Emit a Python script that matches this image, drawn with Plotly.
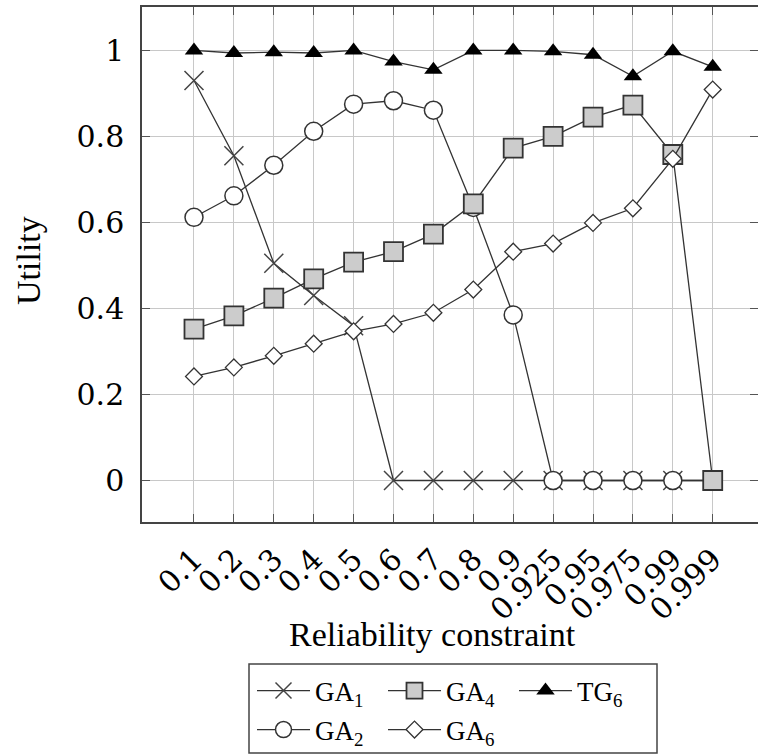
import plotly.graph_objects as go

reliability = ["0.1", "0.2", "0.3", "0.4", "0.5", "0.6", "0.7", "0.8", "0.9",
               "0.925", "0.95", "0.975", "0.99", "0.999"]
ga1 = [0.93, 0.755, 0.505, 0.43, 0.36, 0, 0, 0, 0, 0, 0, 0, 0, 0]
ga2 = [0.612, 0.662, 0.733, 0.812, 0.875, 0.883, 0.861, 0.635, 0.385, 0, 0, 0, 0, 0]
ga4 = [0.352, 0.383, 0.424, 0.469, 0.508, 0.532, 0.573, 0.643, 0.773, 0.80, 0.845, 0.873, 0.758, 0]
ga6 = [0.242, 0.263, 0.29, 0.318, 0.347, 0.364, 0.39, 0.444, 0.532, 0.551, 0.599, 0.633, 0.748, 0.909]
tg6 = [1.0, 0.994, 0.996, 0.994, 1.0, 0.974, 0.955, 1.0, 1.0, 0.998, 0.99, 0.94, 0.998, 0.962]
y_ticks = [0, 0.2, 0.4, 0.6, 0.8, 1]
y_ticktext = ["0", "0.2", "0.4", "0.6", "0.8", "1"]

W, H = 758, 755
L, T, B = 142, 7, 522          # plot area pixel edges
PW, PH = W - L, B - T

def px(x):
    return (x - L) / PW

def py(y):
    return (B - y) / PH

LINE = "#333333"
fig = go.Figure()

series = [
    ("GA<sub>1</sub>", ga1, dict(symbol="x-thin", size=19, color="#444444",
                               line=dict(width=1.5, color="#444444")), "legend"),
    ("GA<sub>2</sub>", ga2, dict(symbol="circle", size=18, color="white",
                               line=dict(width=1.5, color=LINE)), "legend2"),
    ("GA<sub>4</sub>", ga4, dict(symbol="square", size=19, color="#cccccc",
                               line=dict(width=1.8, color=LINE)), "legend"),
    ("GA<sub>6</sub>", ga6, dict(symbol="diamond", size=13, color="white",
                               line=dict(width=1.3, color=LINE)), "legend2"),
    ("TG<sub>6</sub>", tg6, dict(symbol="triangle-up", size=16, color="black",
                               line=dict(width=0, color="black")), "legend"),
]
ranks = {"GA<sub>1</sub>": 1, "GA<sub>4</sub>": 2, "TG<sub>6</sub>": 3,
         "GA<sub>2</sub>": 1, "GA<sub>6</sub>": 2}
for name, vals, marker, leg in series:
    fig.add_trace(go.Scatter(
        x=reliability, y=vals, mode="lines+markers", name=name,
        line=dict(color=LINE, width=1.3), marker=marker,
        legend=leg, legendrank=ranks[name], cliponaxis=False))

# invisible trace for right-side mirrored ticks
fig.add_trace(go.Scatter(x=[reliability[0]], y=[0], yaxis="y2", mode="markers",
                         marker=dict(opacity=0), showlegend=False, hoverinfo="skip"))

tickfont = dict(family="DejaVu Serif", size=30, color="black")
legfont = dict(family="Liberation Serif", size=27, color="black")
fig.update_layout(
    width=W, height=H,
    margin=dict(l=L, r=0, t=T, b=H - B),
    plot_bgcolor="white", paper_bgcolor="white",
    xaxis=dict(type="category", categoryorder="array", categoryarray=reliability,
               range=[-1.303, 14.135], showgrid=True, gridcolor="#c8c8c8", gridwidth=1,
               showline=True, linecolor="#444444", linewidth=1.5, mirror="ticks",
               ticks="inside", ticklen=8, tickcolor="#555555", tickwidth=1,
               tickangle=-45, tickfont=tickfont, ticklabelstandoff=6, zeroline=False),
    yaxis=dict(range=[-0.0965, 1.101], tickvals=y_ticks, ticktext=y_ticktext,
               showgrid=True, gridcolor="#c8c8c8", gridwidth=1,
               showline=True, linecolor="#444444", linewidth=1.5,
               ticks="inside", ticklen=8, tickcolor="#555555", tickwidth=1,
               tickfont=tickfont, ticklabelstandoff=10, zeroline=False),
    yaxis2=dict(range=[-0.0965, 1.101], tickvals=y_ticks, overlaying="y", side="right",
                showgrid=False, showline=False, ticks="inside", ticklen=8,
                tickcolor="#555555", tickwidth=1, showticklabels=False, zeroline=False),
    legend=dict(orientation="h", xref="container", yref="container",
                x=252 / W, y=1 - 691 / H, xanchor="left", yanchor="middle",
                bgcolor="rgba(0,0,0,0)", borderwidth=0, itemwidth=53,
                entrywidth=63, traceorder="normal", font=legfont),
    legend2=dict(orientation="h", xref="container", yref="container",
                 x=252 / W, y=1 - 730 / H, xanchor="left", yanchor="middle",
                 bgcolor="rgba(0,0,0,0)", borderwidth=0, itemwidth=53,
                 entrywidth=63, traceorder="normal", font=legfont),
    showlegend=True,
    annotations=[
        dict(text="Utility", xref="paper", yref="paper", x=px(28), y=py(261),
             textangle=-90, showarrow=False, xanchor="center", yanchor="middle",
             font=dict(family="Liberation Serif", size=34, color="black")),
        dict(text="Reliability constraint", xref="paper", yref="paper",
             x=px(432), y=py(634), showarrow=False, xanchor="center", yanchor="middle",
             font=dict(family="Liberation Serif", size=34, color="black")),
    ],
    shapes=[
        dict(type="rect", xref="paper", yref="paper", x0=px(249), x1=px(657),
             y0=py(664), y1=py(753), line=dict(color="#444444", width=1.5),
             fillcolor="rgba(0,0,0,0)"),
    ],
)

fig.write_html("out.html")
